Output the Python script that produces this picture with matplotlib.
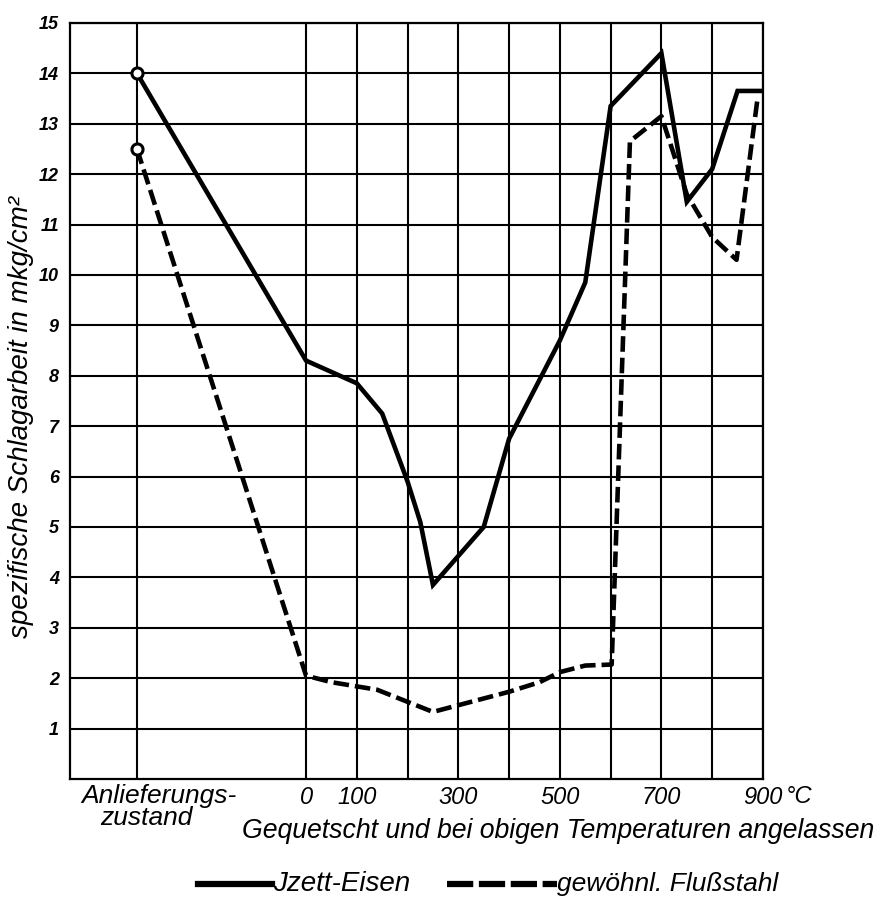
import matplotlib

matplotlib.use("Agg")
import matplotlib.pyplot as plt
from matplotlib.lines import Line2D
from matplotlib.transforms import blended_transform_factory

plt.rcParams["font.family"] = ["Liberation Sans Narrow", "DejaVu Sans Condensed", "Liberation Sans"]
plt.rcParams["font.style"] = "italic"

# Position of the "as delivered" column on the temperature axis
ANLIEFERUNG_X = -333

# Jzett-Eisen (solid)
jzett_temp = [ANLIEFERUNG_X, 0, 100, 150, 200, 225, 250, 350, 400, 500, 550, 600, 700, 750, 800, 850, 900]
jzett_wert = [14.0, 8.3, 7.85, 7.25, 5.9, 5.1, 3.85, 5.0, 6.75, 8.7, 9.85, 13.35, 14.4, 11.45, 12.1, 13.65, 13.65]

# gewöhnlicher Flußstahl (dashed)
fluss_temp = [ANLIEFERUNG_X, 0, 50, 140, 250, 400, 460, 500, 550, 602, 638, 700, 750, 800, 848, 890]
fluss_wert = [12.5, 2.05, 1.92, 1.77, 1.33, 1.73, 1.92, 2.12, 2.25, 2.27, 12.65, 13.15, 11.6, 10.75, 10.3, 13.55]

grid_x = [ANLIEFERUNG_X, 0, 100, 200, 300, 400, 500, 600, 700, 800, 900]
label_x = [0, 100, 300, 500, 700, 900]
y_ticks = list(range(1, 16))

fig = plt.figure(figsize=(8.89, 9.16), dpi=100)
ax = fig.add_axes([0.0787, 0.1496, 0.7795, 0.8254])
ax.set_xlim(-465, 900)
ax.set_ylim(0, 15)

# grid drawn as thick black lines
for gx in grid_x:
    ax.axvline(gx, color="black", lw=1.5, zorder=1)
for gy in y_ticks:
    ax.axhline(gy, color="black", lw=1.5, zorder=1)
for s in ax.spines.values():
    s.set_linewidth(1.6)

ax.plot(jzett_temp, jzett_wert, color="black", lw=3.3, solid_joinstyle="miter", zorder=3)
ax.plot(fluss_temp, fluss_wert, color="black", lw=3.3, linestyle=(0, (3.4, 1.3)), zorder=3)
ax.plot([ANLIEFERUNG_X, ANLIEFERUNG_X], [jzett_wert[0], fluss_wert[0]], "o", ms=8,
        mfc="white", mec="black", mew=2.2, zorder=4)

ax.set_yticks(y_ticks)
ax.set_yticklabels([str(v) for v in y_ticks], fontsize=13, fontweight="bold")
ax.set_xticks(label_x)
ax.set_xticklabels([str(v) for v in label_x], fontsize=17)
ax.tick_params(length=0)
ax.tick_params(axis="y", pad=8)
ax.tick_params(axis="x", pad=5)

trans = blended_transform_factory(ax.transData, ax.transAxes)
ax.text(945, -0.008, "°C", transform=trans, fontsize=17, ha="left", va="top")
ax.text(-290, -0.006, "Anlieferungs-", transform=trans, fontsize=19, ha="center", va="top")
ax.text(-315, -0.036, "zustand", transform=trans, fontsize=19, ha="center", va="top")

fig.text(0.024, 0.545, "spezifische Schlagarbeit in mkg/cm²", rotation=90,
         fontsize=20, ha="center", va="center")
fig.text(0.272, 0.093, "Gequetscht und bei obigen Temperaturen angelassen",
         fontsize=19.2, ha="left", va="center")

# legend
fig.add_artist(Line2D([0.223, 0.306], [0.035, 0.035], color="black", lw=4.5))
fig.text(0.307, 0.035, "Jzett-Eisen", fontsize=20, ha="left", va="center")
fig.add_artist(Line2D([0.503, 0.626], [0.035, 0.035], color="black", lw=4.5,
                      linestyle=(0, (4.2, 0.9))))
fig.text(0.627, 0.035, "gewöhnl. Flußstahl", fontsize=19, ha="left", va="center")

fig.savefig("out.png", dpi=100)
